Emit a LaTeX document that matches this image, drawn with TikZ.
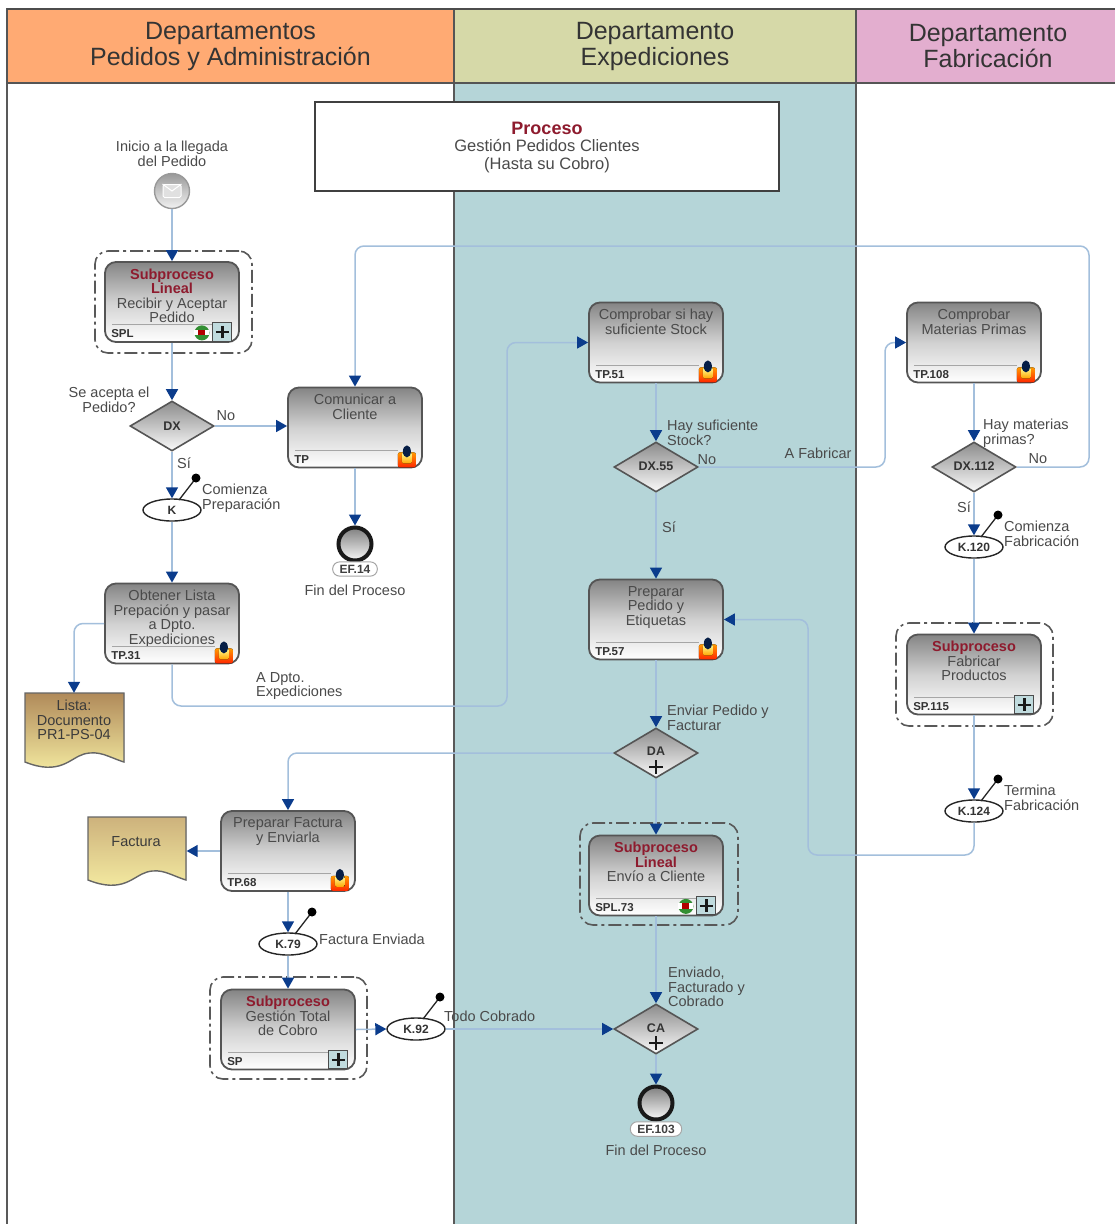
\documentclass[tikz,border=0pt]{standalone}
\usepackage{fontspec}
\setmainfont{Liberation Sans}
\usetikzlibrary{arrows.meta,shapes.geometric,calc,positioning}
\definecolor{hdA}{HTML}{FFAA73}
\definecolor{hdB}{HTML}{D6D9A8}
\definecolor{hdC}{HTML}{E3AECF}
\definecolor{band}{HTML}{B5D5D8}
\definecolor{linea}{HTML}{A3BFDC}
\definecolor{navy}{HTML}{0B3C8C}
\definecolor{txt}{HTML}{4A4A4A}
\definecolor{rojo}{HTML}{8E1B2E}
\definecolor{borde}{HTML}{555555}
\definecolor{docA}{HTML}{B08A5A}
\definecolor{docB}{HTML}{F7EFA4}
\definecolor{docC}{HTML}{CDB27C}
\tikzset{
  headbox/.style={draw=borde,line width=1.5pt,minimum height=74pt,inner sep=0pt},
  headtext/.style={inner sep=0pt,text=txt!70!black,align=center,font=\fontsize{25}{26}\selectfont},
  taskbox/.style={draw=borde,line width=1.8pt,rounded corners=11pt,minimum width=134pt,minimum height=80pt,inner sep=0pt,top color=black!48,bottom color=white,middle color=black!18},
  tasktext/.style={anchor=north,inner sep=0pt,text=txt,align=center,font=\fontsize{14.5}{14.5}\selectfont},
  idtext/.style={anchor=west,inner sep=0pt,text=black!80,font=\bfseries\fontsize{11.5}{12}\selectfont},
  sepline/.style={draw=black!35,line width=1pt},
  framebox/.style={draw=black!65,line width=1.6pt,rounded corners=13pt,dash pattern=on 13pt off 4pt on 3pt off 4pt,inner sep=0pt},
  gate/.style={diamond,draw=borde,line width=1.6pt,minimum width=84pt,minimum height=50pt,aspect=1.68,inner sep=0pt,top color=black!45,bottom color=black!2},
  gatetext/.style={inner sep=0pt,text=black!80,font=\bfseries\fontsize{12.5}{13}\selectfont},
  evt/.style={ellipse,draw=black!85,line width=1.4pt,fill=white,minimum width=58pt,minimum height=22pt,inner sep=0pt,text=black!80,font=\bfseries\fontsize{12}{12}\selectfont},
  lab/.style={inner sep=0pt,text=txt,align=center,font=\fontsize{14.5}{14.5}\selectfont},
  labl/.style={inner sep=0pt,text=txt,align=left,anchor=west,font=\fontsize{14.5}{14.5}\selectfont},
  conn/.style={draw=linea,line width=1.5pt,rounded corners=9pt,-{Triangle[width=12pt,length=11pt,color=navy,fill=navy]}},
  endev/.style={circle,draw=black!90,line width=4pt,minimum size=33pt,inner sep=0pt,top color=black!50,bottom color=black!3},
  eflab/.style={rounded corners=7pt,draw=black!35,fill=white,line width=1pt,inner xsep=7pt,inner ysep=3pt,text=black!75,font=\bfseries\fontsize{12}{12}\selectfont},
  docanchor/.style={minimum width=99pt,minimum height=72pt,inner sep=0pt},
  doctext/.style={inner sep=0pt,text=txt!80!black,align=center,font=\fontsize{14.5}{14.5}\selectfont},
}
\newcommand{\taskat}[5]{% name,cx,cy,id,text
  \node[taskbox] (#1) at (#2,#3) {};
  \node[tasktext] (#1txt) at ($(#1.north)+(0,7.5)$) {#5};
  \draw[sepline] ($(#1.south west)+(8,-18)$) -- ($(#1.south east)+(-25,-18)$);
  \node[idtext] (#1id) at ($(#1.south west)+(7,-9)$) {#4};
}
\newcommand{\actoricon}[1]{%
  \fill[top color=orange!80!yellow,bottom color=red!70!orange,rounded corners=2pt] ($(#1.south east)+(-25,-1)$) rectangle ($(#1.south east)+(-7,-16)$);
  \fill[top color=yellow!40!white,bottom color=orange!70!yellow,rounded corners=2pt] ($(#1.south east)+(-21,-5)$) rectangle ($(#1.south east)+(-11,-16)$);
  \fill[navy!50!black] ($(#1.south east)+(-16,-17)$) ellipse [x radius=4pt,y radius=6pt];
}
\newcommand{\plusicon}[1]{%
  \fill[band!85!white] ($(#1.south east)+(-27,-1.5)$) rectangle ($(#1.south east)+(-8,-20)$);
  \draw[black!70,line width=1pt] ($(#1.south east)+(-27,-1.5)$) rectangle ($(#1.south east)+(-8,-20)$);
  \draw[black!90,line width=2.4pt] ($(#1.south east)+(-17.5,-4.5)$) -- ($(#1.south east)+(-17.5,-17)$) ($(#1.south east)+(-24,-10.7)$) -- ($(#1.south east)+(-11,-10.7)$);
}
\newcommand{\linicon}[1]{%
  \fill[green!45!black!80] ($(#1.south east)+(-38,-10)$) circle [radius=7.5pt];
  \fill[white] ($(#1.south east)+(-45.5,-13)$) rectangle ($(#1.south east)+(-30.5,-7.5)$);
  \fill[red!70!black] ($(#1.south east)+(-41.5,-13)$) rectangle ($(#1.south east)+(-34.5,-7.5)$);
}
\newcommand{\flag}[1]{%
  \draw[black!85,line width=1.3pt] ($(#1.center)+(7,-10)$) -- ($(#1.center)+(24,-32)$);
  \fill[black] ($(#1.center)+(24,-32)$) circle [radius=4.5pt];
}
\newcommand{\plusgate}[1]{%
  \draw[black!90,line width=1.8pt] ($(#1.center)+(0,7)$) -- ($(#1.center)+(0,21)$) ($(#1.center)+(-7,14)$) -- ($(#1.center)+(7,14)$);
}
\begin{document}
\begin{tikzpicture}[x=1pt,y=-1pt]
\useasboundingbox (0,0) rectangle (1115,1224);
\fill[white] (0,0) rectangle (1115,1224);
% lanes
\coordinate (bandnw) at (454,83);
\coordinate (bandse) at (856,1224);
\fill[band] (bandnw) rectangle (bandse);
\draw[black!65,line width=1.6pt] (7,83) -- (7,1224) (454,83) -- (454,1224) (856,83) -- (856,1224);
\node[headbox,fill=hdA,minimum width=447pt] (h1) at (230.5,46) {};
\node[headbox,fill=hdB,minimum width=402pt] (h2) at (655,46) {};
\node[headbox,fill=hdC,minimum width=264pt] (h3) at (988,46) {};
\node[headtext] (h1t) at (230.5,46.5) {Departamentos\\Pedidos y Administración};
\node[headtext] (h2t) at (655,46.5) {Departamento\\Expediciones};
\node[headtext] (h3t) at (988,46.5) {Departamento\\Fabricación};
\draw[black!70,line width=2pt] (7,9) -- (1115,9);
% title
\node[draw=black!75,fill=white,line width=1.4pt,minimum width=464pt,minimum height=89pt,inner sep=0pt] (title) at (547,146.5) {};
\node[lab,font=\fontsize{16.5}{17.5}\selectfont] (titletxt) at (547,147.5) {{\color{rojo}\bfseries\fontsize{18}{18}\selectfont Proceso}\\Gestión Pedidos Clientes\\(Hasta su Cobro)};
% start
\node[circle,draw=black!40,line width=1.4pt,minimum size=35pt,inner sep=0pt,top color=black!40,bottom color=black!5] (start) at (172,191) {};
\node[draw=white,line width=1pt,rounded corners=1.5pt,minimum width=18pt,minimum height=13pt,inner sep=0pt,fill=black!12] (env) at (172,191) {};
\draw[white,line width=1pt] (env.north west) -- (env.center) -- (env.north east);
\node[lab] (startlab) at (172,154) {Inicio a la llegada\\del Pedido};
% frames
\node[framebox,minimum width=157pt,minimum height=102pt] (f1) at (173.5,302) {};
\node[framebox,minimum width=157pt,minimum height=103pt] (f2) at (974.5,674.5) {};
\node[framebox,minimum width=158pt,minimum height=102pt] (f3) at (659,874) {};
\node[framebox,minimum width=157pt,minimum height=102pt] (f4) at (288.5,1028) {};
% tasks
\taskat{spl}{172}{302}{SPL}{{\color{rojo}\bfseries Subproceso}\\{\color{rojo}\bfseries Lineal}\\Recibir y Aceptar\\Pedido}
\taskat{tp}{355}{427.5}{TP}{Comunicar a\\Cliente}
\taskat{tpb}{172}{623.5}{TP.31}{Obtener Lista\\Prepación y pasar\\a Dpto.\\Expediciones}
\taskat{tpc}{656}{342.5}{TP.51}{Comprobar si hay\\suficiente Stock}
\taskat{tpd}{974}{342.5}{TP.108}{Comprobar\\Materias Primas}
\taskat{tpe}{656}{619.5}{TP.57}{Preparar\\Pedido y\\Etiquetas}
\taskat{spb}{974}{674.5}{SP.115}{{\color{rojo}\bfseries Subproceso}\\Fabricar\\Productos}
\taskat{tpf}{288}{851}{TP.68}{Preparar Factura\\y Enviarla}
\taskat{splb}{656}{875.5}{SPL.73}{{\color{rojo}\bfseries Subproceso}\\{\color{rojo}\bfseries Lineal}\\Envío a Cliente}
\taskat{spc}{288}{1029.5}{SP}{{\color{rojo}\bfseries Subproceso}\\Gestión Total\\de Cobro}
\actoricon{tp}\actoricon{tpb}\actoricon{tpc}\actoricon{tpd}\actoricon{tpe}\actoricon{tpf}
\plusicon{spl}\plusicon{spb}\plusicon{splb}\plusicon{spc}
\linicon{spl}\linicon{splb}
% gates
\node[gate] (dx) at (172,426) {};
\node[gatetext] (dxt) at (172,426) {DX};
\node[gate] (dxb) at (656,467) {};
\node[gatetext] (dxbt) at (656,466) {DX.55};
\node[gate] (dxc) at (974,467) {};
\node[gatetext] (dxct) at (974,466) {DX.112};
\node[gate] (da) at (656,753) {};
\node[gatetext] (dat) at (656,751) {DA};
\node[gate] (ca) at (656,1029) {};
\node[gatetext] (cat) at (656,1028) {CA};
\plusgate{da}\plusgate{ca}
% intermediate events
\node[evt] (k) at (172,510) {K};
\node[evt] (kb) at (974,547) {K.120};
\node[evt] (kc) at (974,811) {K.124};
\node[evt] (kd) at (288,944) {K.79};
\node[evt] (ke) at (416,1029) {K.92};
\flag{k}\flag{kb}\flag{kc}\flag{kd}\flag{ke}
% end events
\node[endev] (ea) at (355,544) {};
\node[eflab] (eal) at (355,569) {EF.14};
\node[lab] (ealb) at (355,590) {Fin del Proceso};
\node[endev] (eb) at (656,1103) {};
\node[eflab] (ebl) at (656,1129) {EF.103};
\node[lab] (eblb) at (656,1150) {Fin del Proceso};
% documents
\node[docanchor] (lista) at (74.5,729) {};
\fill[top color=docA,bottom color=docB] (25,693) -- (124,693) -- (124,762) .. controls (108,757) and (100,750) .. (84,754) .. controls (70,758) and (60,776) .. (25,762) -- cycle;
\draw[black!60,line width=1.4pt] (25,693) -- (124,693) -- (124,762) .. controls (108,757) and (100,750) .. (84,754) .. controls (70,758) and (60,776) .. (25,762) -- cycle;
\node[doctext] (listat) at (74,720) {Lista:\\Documento\\PR1-PS-04};
\node[docanchor,minimum height=60pt] (fact) at (137,850) {};
\fill[top color=docC,bottom color=docB] (88,817) -- (186,817) -- (186,880) .. controls (170,875) and (162,868) .. (147,872) .. controls (133,876) and (123,894) .. (88,880) -- cycle;
\draw[black!60,line width=1.4pt] (88,817) -- (186,817) -- (186,880) .. controls (170,875) and (162,868) .. (147,872) .. controls (133,876) and (123,894) .. (88,880) -- cycle;
\node[doctext] (factt) at (136,842) {Factura};
% connectors
\draw[conn] (start) -- (spl);
\draw[conn] (spl) -- (dx);
\draw[conn] (dx.east) -- (dx.east -| tp.west);
\draw[conn] (dx) -- (k);
\draw[conn] (k) -- (tpb);
\draw[conn] (tp) -- (ea);
\coordinate (c1) at (74,0);
\draw[conn] (tpb.west) -- (c1 |- tpb.west) -- (lista.north -| c1);
\coordinate (c2) at (0,706);
\coordinate (c3) at (507,0);
\draw[conn] (tpb.south) -- (c2 -| tpb.south) -- (c2 -| c3) -- (c3 |- tpc.west) -- (tpc.west);
\draw[conn] (tpc) -- (dxb);
\draw[conn] (dxb) -- (tpe);
\coordinate (c4) at (885,0);
\draw[conn] (dxb.east) -- (c4 |- dxb.east) -- (c4 |- tpd.west) -- (tpd.west);
\draw[conn] (tpd) -- (dxc);
\draw[conn] (dxc) -- (kb);
\draw[conn] (kb) -- (spb);
\draw[conn] (spb) -- (kc);
\coordinate (c5) at (1089,246);
\draw[conn] (dxc.east) -- (c5 |- dxc.east) -- (c5) -- (c5 -| tp.north) -- (tp.north);
\coordinate (c6) at (808,855);
\draw[conn] (kc.south) -- (c6 -| kc.south) -- (c6) -- (c6 |- tpe.east) -- (tpe.east);
\draw[conn] (tpe) -- (da);
\draw[conn] (da.west) -- (da.west -| tpf.north) -- (tpf.north);
\draw[conn] (da) -- (splb);
\draw[conn] (splb) -- (ca);
\draw[conn] (ca) -- (eb);
\draw[conn] (tpf.west) -- (tpf.west -| fact.east);
\draw[conn] (tpf) -- (kd);
\draw[conn] (kd) -- (spc);
\draw[conn] (spc.east) -- (ke.west);
\draw[conn] (ke.east) -- (ca.west);
% labels
\node[lab] (l1) at (109,400) {Se acepta el\\Pedido?};
\node[lab] (l2) at (226,416) {No};
\node[lab] (l3) at (184,463) {Sí};
\node[labl] (l4) at (202,498) {Comienza\\Preparación};
\node[labl] (l5) at (256,686) {A Dpto.\\Expediciones};
\node[labl] (l6) at (667,433) {Hay suficiente\\Stock?};
\node[lab] (l7) at (707,460) {No};
\node[lab] (l8) at (818,453) {A Fabricar};
\node[lab] (l9) at (669,527) {Sí};
\node[labl] (l10) at (983,433) {Hay materias\\primas?};
\node[lab] (l11) at (1038,459) {No};
\node[lab] (l12) at (964,507) {Sí};
\node[labl] (l13) at (1004,534) {Comienza\\Fabricación};
\node[labl] (l14) at (667,718) {Enviar Pedido y\\Facturar};
\node[labl] (l15) at (1004,798) {Termina\\Fabricación};
\node[labl] (l16) at (319,939) {Factura Enviada};
\node[labl] (l17) at (444,1016) {Todo Cobrado};
\node[labl] (l18) at (668,987) {Enviado,\\Facturado y\\Cobrado};
\end{tikzpicture}
\end{document}
